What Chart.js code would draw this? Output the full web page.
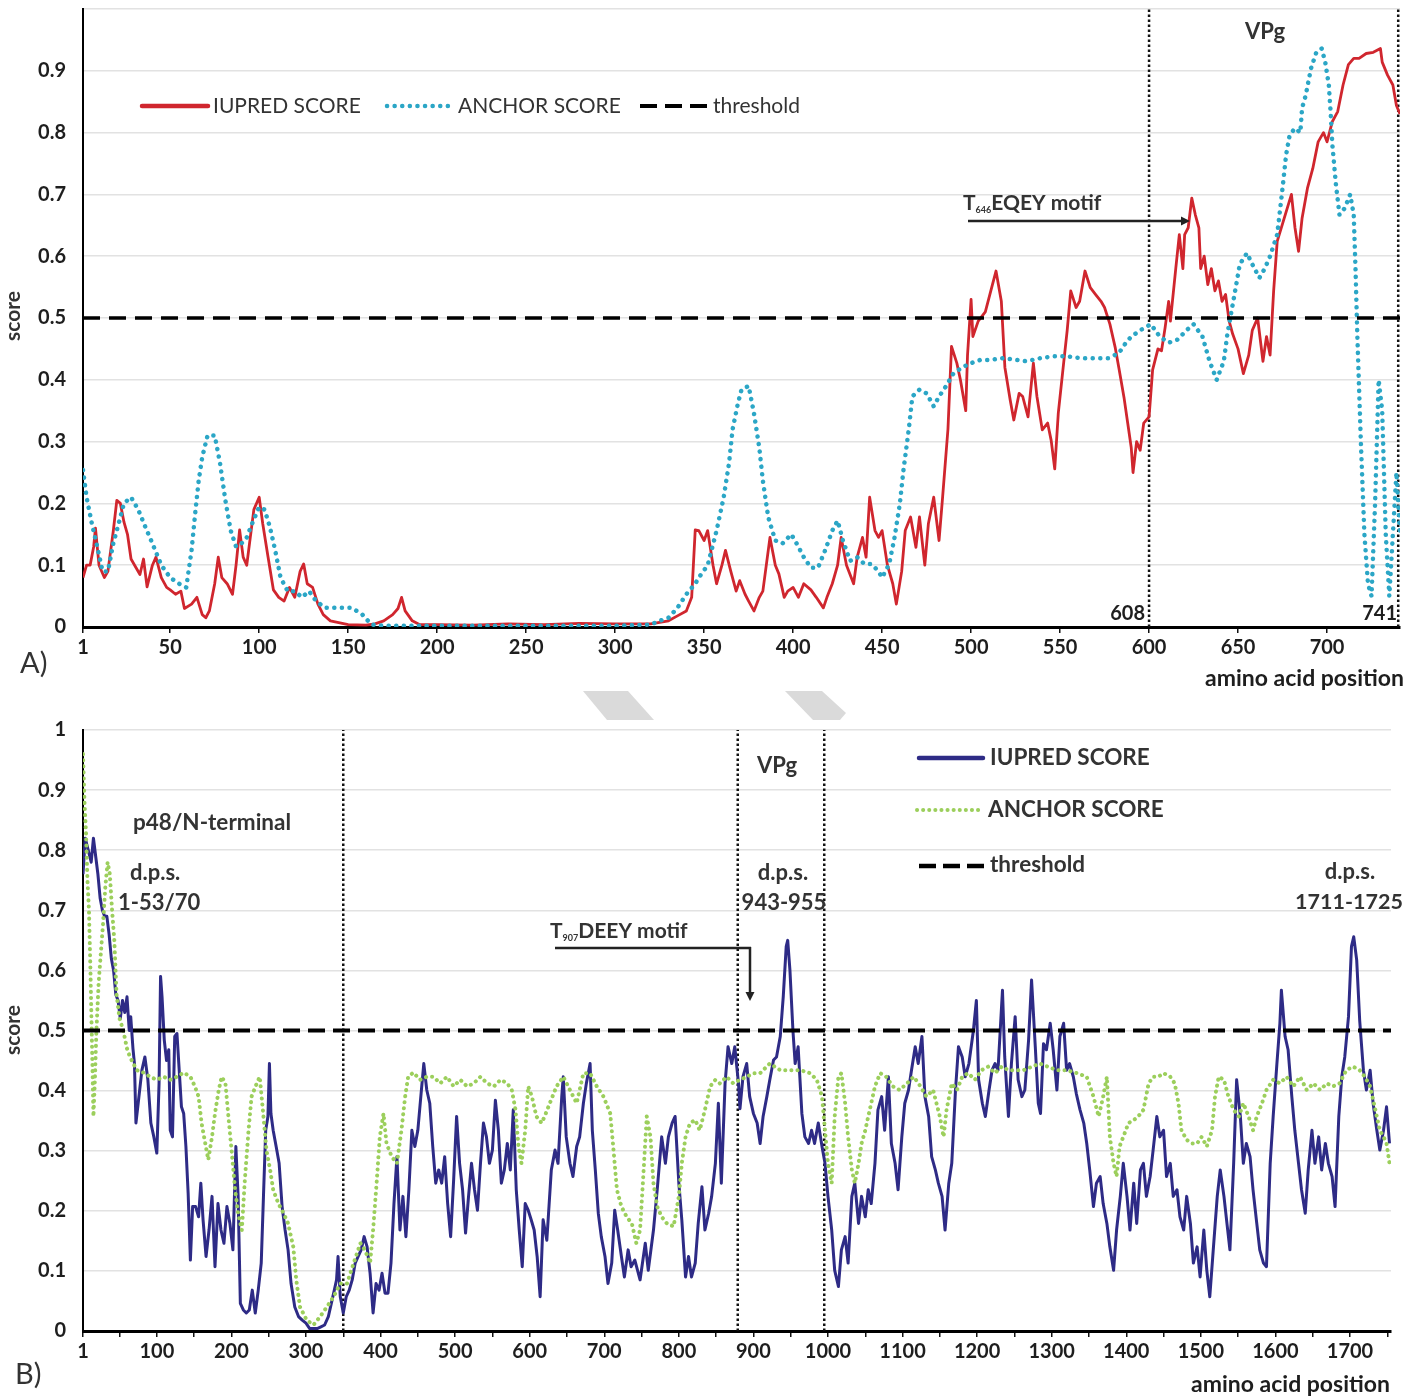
<!DOCTYPE html>
<html>
<head>
<meta charset="utf-8">
<script src="https://cdn.jsdelivr.net/npm/chart.js@4.4.1/dist/chart.umd.min.js"></script>
<style>
  body { margin: 0; background: #fff; width: 1424px; height: 1397px; position: relative; overflow: hidden; }
  #wrapA { position: absolute; left: 0; top: -20px; width: 1424px; height: 720px; }
  #wrapB { position: absolute; left: 0; top: 700px; width: 1424px; height: 697px; }
  #marks { position: absolute; left: 0; top: 0; }
</style>
</head>
<body>
<div id="wrapA"><canvas id="chartA" width="1424" height="720"></canvas></div>
<div id="wrapB"><canvas id="chartB" width="1424" height="697"></canvas></div>
<svg id="marks" width="1424" height="1397">
  <polygon points="583,691 628,691 654,720 607,720" fill="#dadada"/>
  <polygon points="785,691 822,691 846,713 840,720 813,720" fill="#dadada"/>
</svg>
<script>
// ---- panel A (741 aa) ----
const aXTicks = [1, 50, 100, 150, 200, 250, 300, 350, 400, 450, 500, 550, 600, 650, 700];
const aRegionEdges = [600, 740];

const aIupredPos = [1,3,5,7,8,10,13,15,18,20,22,24,26,28,30,33,35,37,40,42,45,48,50,53,56,58,62,65,68,70,72,75,77,79,82,85,87,89,91,93,95,97,100,102,105,108,111,114,117,120,123,125,127,130,133,136,140,150,160,165,170,175,178,180,182,186,190,200,220,240,260,280,300,320,330,335,340,343,345,347,350,352,355,357,360,362,365,368,370,373,375,378,381,383,387,390,392,395,397,400,403,406,410,413,417,419,422,425,427,430,434,436,439,441,443,446,448,450,453,456,458,461,463,466,469,471,474,476,479,482,484,487,489,492,494,497,498,500,501,504,508,512,514,517,519,522,524,527,529,532,535,537,540,543,545,547,549,552,554,556,559,561,564,567,570,573,575,578,581,583,586,588,590,591,593,595,597,600,602,605,607,609,611,612,615,617,619,620,622,624,626,628,629,631,633,635,637,639,641,643,645,647,650,653,656,658,661,664,666,668,670,672,676,680,682,684,686,689,692,695,698,700,703,706,709,712,715,718,722,726,730,731,734,737,739,741];
const aIupredVal = [0.08,0.10,0.10,0.13,0.16,0.10,0.08,0.09,0.155,0.205,0.20,0.17,0.15,0.11,0.10,0.085,0.11,0.065,0.10,0.113,0.08,0.064,0.06,0.053,0.058,0.03,0.037,0.048,0.02,0.015,0.026,0.07,0.113,0.08,0.07,0.053,0.10,0.157,0.113,0.10,0.145,0.19,0.21,0.167,0.113,0.06,0.048,0.042,0.064,0.048,0.09,0.102,0.07,0.064,0.037,0.02,0.01,0.004,0.003,0.005,0.01,0.02,0.03,0.048,0.026,0.01,0.004,0.004,0.003,0.005,0.004,0.006,0.005,0.005,0.01,0.018,0.026,0.048,0.157,0.156,0.14,0.156,0.10,0.07,0.10,0.124,0.09,0.058,0.075,0.053,0.042,0.026,0.048,0.058,0.145,0.10,0.086,0.048,0.058,0.064,0.048,0.07,0.06,0.048,0.031,0.048,0.07,0.10,0.145,0.10,0.07,0.113,0.145,0.113,0.21,0.156,0.145,0.156,0.10,0.07,0.037,0.09,0.156,0.178,0.129,0.178,0.10,0.167,0.21,0.14,0.21,0.32,0.454,0.427,0.40,0.35,0.44,0.53,0.47,0.495,0.51,0.554,0.576,0.527,0.42,0.367,0.335,0.378,0.373,0.34,0.427,0.373,0.319,0.33,0.302,0.256,0.346,0.427,0.48,0.544,0.517,0.527,0.576,0.549,0.538,0.527,0.517,0.49,0.452,0.42,0.37,0.33,0.29,0.25,0.30,0.286,0.33,0.34,0.416,0.45,0.447,0.484,0.527,0.495,0.58,0.635,0.58,0.635,0.646,0.694,0.667,0.646,0.58,0.60,0.554,0.58,0.544,0.56,0.527,0.538,0.495,0.474,0.45,0.41,0.44,0.48,0.50,0.43,0.47,0.44,0.544,0.624,0.662,0.70,0.646,0.608,0.662,0.71,0.742,0.785,0.80,0.785,0.818,0.834,0.877,0.91,0.92,0.92,0.928,0.93,0.936,0.914,0.893,0.877,0.844,0.83];

const aAnchorPos = [1,3,6,9,12,15,18,21,24,28,32,36,40,45,50,55,59,62,64,66,68,71,75,78,81,84,87,90,93,96,100,103,106,109,112,116,120,124,128,132,137,141,147,152,158,163,170,200,250,300,320,325,330,335,340,345,347,352,357,361,364,366,369,371,375,378,381,383,386,390,394,399,402,406,410,414,418,422,425,428,432,436,440,444,448,450,454,457,460,462,465,467,471,475,479,482,486,490,495,500,505,510,518,526,531,539,546,554,562,570,577,583,587,590,595,601,606,611,616,621,625,630,634,638,642,644,648,651,655,658,662,665,668,672,675,677,679,682,685,686,688,691,694,697,699,701,702,703,705,707,710,713,715,716,717,719,721,723,725,727,729,731,733,735,737,739,741];
const aAnchorVal = [0.254,0.21,0.167,0.13,0.09,0.09,0.135,0.167,0.20,0.21,0.19,0.162,0.135,0.10,0.08,0.07,0.064,0.124,0.183,0.237,0.275,0.31,0.31,0.265,0.205,0.156,0.13,0.135,0.145,0.167,0.194,0.19,0.162,0.124,0.08,0.058,0.058,0.048,0.058,0.042,0.031,0.031,0.031,0.031,0.02,0.004,0.002,0.002,0.002,0.002,0.004,0.01,0.015,0.031,0.053,0.07,0.08,0.10,0.156,0.21,0.265,0.32,0.362,0.384,0.39,0.346,0.29,0.237,0.178,0.14,0.135,0.15,0.135,0.113,0.096,0.096,0.124,0.156,0.172,0.14,0.107,0.113,0.102,0.102,0.09,0.08,0.102,0.145,0.20,0.254,0.32,0.373,0.384,0.378,0.357,0.373,0.39,0.41,0.42,0.427,0.432,0.432,0.435,0.432,0.43,0.435,0.438,0.438,0.435,0.435,0.435,0.443,0.46,0.47,0.48,0.49,0.47,0.46,0.465,0.48,0.49,0.47,0.43,0.40,0.43,0.474,0.538,0.587,0.605,0.587,0.565,0.58,0.60,0.635,0.71,0.764,0.796,0.807,0.80,0.84,0.86,0.904,0.93,0.936,0.914,0.877,0.834,0.78,0.716,0.667,0.678,0.70,0.667,0.58,0.474,0.30,0.15,0.07,0.05,0.20,0.40,0.35,0.15,0.05,0.15,0.25,0.15];

// ---- panel B (1755 aa) ----
const bXTicks = [1,50,100,150,200,250,300,350,400,450,500,550,600,650,700,750,800,850,900,950,1000,1050,1100,1150,1200,1250,1300,1350,1400,1450,1500,1550,1600,1650,1700,1750];
const bXLabels = [1,100,200,300,400,500,600,700,800,900,1000,1100,1200,1300,1400,1500,1600,1700];
const bRegionEdges = [350, 879, 995];

const bIupredPos = [1,4,8,12,15,18,21,24,27,30,33,36,39,42,45,48,51,54,57,60,63,65,68,70,72,75,80,84,88,92,96,100,103,105,107,110,113,116,118,121,124,127,130,133,136,139,142,145,148,152,156,159,162,166,170,174,178,182,186,190,194,198,202,206,209,212,216,220,224,228,232,236,240,243,246,249,251,253,256,260,264,268,272,276,280,285,290,295,300,305,310,315,320,325,330,334,338,341,343,346,350,354,358,362,366,370,374,378,382,386,390,394,398,402,406,410,414,418,422,426,430,434,438,442,446,450,454,458,462,466,470,474,478,482,486,490,494,498,502,506,510,514,518,522,526,530,534,538,542,546,550,554,558,562,566,570,574,578,582,586,590,594,598,602,606,610,614,618,623,629,634,638,643,645,649,654,658,663,667,672,676,681,684,688,692,696,701,705,710,714,718,723,727,732,736,741,748,755,759,766,771,777,782,786,791,795,800,804,809,813,817,822,826,831,835,840,844,849,853,857,862,866,871,875,880,882,886,891,895,900,905,909,913,918,922,927,931,936,940,944,946,949,953,956,960,965,969,974,978,982,987,992,996,1000,1005,1009,1014,1018,1023,1027,1032,1036,1041,1045,1050,1054,1058,1063,1067,1072,1076,1081,1085,1090,1094,1099,1103,1108,1112,1117,1121,1126,1130,1135,1139,1144,1148,1153,1157,1162,1166,1171,1175,1180,1184,1189,1195,1199,1202,1207,1211,1216,1220,1224,1228,1234,1237,1242,1246,1251,1255,1260,1264,1269,1273,1278,1282,1285,1289,1293,1298,1302,1307,1311,1316,1320,1324,1329,1333,1338,1343,1347,1351,1356,1360,1365,1369,1374,1378,1383,1387,1392,1396,1401,1405,1410,1414,1419,1423,1427,1432,1436,1441,1445,1450,1454,1459,1463,1468,1472,1477,1481,1486,1490,1495,1499,1504,1508,1512,1516,1522,1526,1531,1535,1539,1544,1548,1553,1557,1561,1566,1570,1575,1579,1584,1588,1593,1597,1602,1606,1608,1613,1617,1622,1626,1631,1635,1640,1644,1649,1653,1658,1662,1667,1671,1676,1680,1685,1689,1693,1698,1702,1705,1709,1713,1718,1722,1727,1731,1736,1740,1745,1749,1753];
const bIupredVal = [0.76,0.82,0.80,0.78,0.82,0.79,0.76,0.72,0.70,0.69,0.69,0.66,0.62,0.60,0.56,0.55,0.52,0.55,0.53,0.556,0.50,0.523,0.47,0.445,0.346,0.379,0.434,0.456,0.418,0.346,0.323,0.296,0.412,0.59,0.556,0.484,0.45,0.468,0.334,0.323,0.49,0.495,0.434,0.373,0.362,0.307,0.229,0.118,0.207,0.207,0.19,0.246,0.185,0.124,0.168,0.224,0.107,0.212,0.168,0.146,0.207,0.179,0.135,0.307,0.224,0.046,0.035,0.03,0.035,0.068,0.03,0.068,0.113,0.224,0.334,0.357,0.445,0.362,0.334,0.307,0.279,0.207,0.168,0.135,0.079,0.04,0.024,0.018,0.013,0.004,0.004,0.004,0.007,0.01,0.024,0.046,0.068,0.085,0.124,0.057,0.03,0.057,0.068,0.085,0.113,0.124,0.135,0.157,0.14,0.096,0.03,0.079,0.068,0.096,0.063,0.063,0.113,0.212,0.29,0.168,0.224,0.157,0.235,0.334,0.307,0.334,0.39,0.445,0.401,0.379,0.307,0.246,0.268,0.246,0.29,0.212,0.157,0.251,0.357,0.279,0.235,0.163,0.224,0.279,0.235,0.201,0.279,0.346,0.323,0.279,0.301,0.384,0.334,0.246,0.268,0.312,0.268,0.368,0.235,0.168,0.107,0.212,0.201,0.185,0.168,0.124,0.057,0.185,0.151,0.268,0.301,0.279,0.39,0.423,0.323,0.279,0.257,0.307,0.323,0.379,0.412,0.445,0.334,0.268,0.196,0.157,0.124,0.079,0.113,0.201,0.168,0.124,0.09,0.135,0.107,0.118,0.085,0.146,0.101,0.168,0.235,0.323,0.279,0.323,0.346,0.357,0.246,0.185,0.09,0.124,0.09,0.113,0.179,0.24,0.168,0.196,0.224,0.279,0.379,0.246,0.412,0.473,0.445,0.473,0.412,0.37,0.423,0.445,0.39,0.362,0.346,0.312,0.357,0.39,0.418,0.451,0.456,0.49,0.556,0.64,0.65,0.60,0.50,0.445,0.473,0.362,0.323,0.312,0.334,0.312,0.346,0.307,0.279,0.224,0.168,0.101,0.074,0.135,0.157,0.113,0.224,0.246,0.179,0.224,0.19,0.235,0.212,0.279,0.368,0.39,0.334,0.423,0.312,0.279,0.235,0.323,0.379,0.401,0.434,0.473,0.445,0.49,0.39,0.357,0.29,0.268,0.246,0.224,0.168,0.246,0.279,0.401,0.473,0.456,0.423,0.445,0.50,0.55,0.418,0.379,0.357,0.401,0.434,0.445,0.434,0.567,0.456,0.357,0.445,0.523,0.418,0.39,0.401,0.484,0.584,0.473,0.379,0.362,0.478,0.468,0.512,0.468,0.401,0.49,0.512,0.434,0.445,0.423,0.395,0.368,0.346,0.312,0.268,0.207,0.246,0.257,0.212,0.179,0.14,0.101,0.168,0.224,0.279,0.224,0.168,0.246,0.179,0.268,0.279,0.224,0.257,0.301,0.357,0.323,0.334,0.257,0.279,0.224,0.235,0.19,0.168,0.224,0.179,0.113,0.14,0.09,0.168,0.101,0.057,0.124,0.224,0.268,0.224,0.179,0.135,0.279,0.418,0.357,0.279,0.312,0.29,0.235,0.179,0.135,0.113,0.107,0.279,0.357,0.445,0.512,0.567,0.49,0.468,0.39,0.334,0.279,0.235,0.196,0.268,0.334,0.279,0.323,0.268,0.312,0.279,0.257,0.207,0.357,0.423,0.456,0.523,0.64,0.656,0.617,0.517,0.434,0.401,0.434,0.379,0.334,0.301,0.334,0.373,0.312];

const bAnchorPos = [1,3,5,7,9,11,13,15,17,19,22,25,28,31,34,37,40,43,46,50,55,60,64,73,82,91,100,109,118,127,136,145,151,156,160,165,169,174,178,183,187,192,196,201,205,209,214,218,223,227,234,238,243,247,252,256,263,270,276,283,287,292,301,310,319,328,337,346,355,364,373,379,386,390,395,399,404,408,415,422,428,433,437,444,453,462,471,480,489,498,507,516,525,534,543,552,561,570,576,581,585,589,594,598,603,609,616,620,627,636,645,654,663,672,681,690,699,708,712,717,723,730,737,743,748,752,757,762,766,771,777,784,793,800,804,809,815,822,828,835,842,849,855,864,873,882,891,900,909,922,936,949,963,976,985,992,996,1000,1005,1009,1014,1018,1023,1027,1032,1036,1041,1045,1050,1054,1058,1063,1070,1078,1087,1096,1106,1115,1124,1132,1141,1150,1155,1159,1166,1173,1180,1188,1197,1206,1215,1224,1233,1242,1262,1284,1307,1320,1334,1347,1356,1363,1369,1374,1378,1383,1387,1391,1396,1403,1410,1416,1423,1430,1436,1443,1450,1459,1465,1470,1474,1481,1488,1495,1501,1508,1515,1519,1524,1531,1537,1544,1551,1557,1564,1570,1575,1582,1588,1597,1606,1615,1624,1633,1642,1651,1660,1669,1677,1686,1695,1704,1713,1720,1727,1734,1740,1745,1749,1753];
const bAnchorVal = [0.96,0.88,0.83,0.75,0.70,0.60,0.48,0.357,0.42,0.50,0.58,0.63,0.68,0.74,0.78,0.76,0.70,0.65,0.56,0.52,0.50,0.47,0.456,0.434,0.43,0.423,0.418,0.423,0.418,0.423,0.43,0.423,0.407,0.39,0.346,0.312,0.285,0.323,0.362,0.401,0.423,0.412,0.357,0.29,0.235,0.196,0.168,0.251,0.334,0.39,0.412,0.423,0.357,0.301,0.268,0.235,0.212,0.196,0.179,0.14,0.085,0.04,0.018,0.01,0.024,0.04,0.057,0.079,0.079,0.113,0.146,0.135,0.113,0.168,0.251,0.323,0.362,0.312,0.29,0.279,0.334,0.39,0.423,0.43,0.418,0.423,0.423,0.412,0.423,0.407,0.418,0.407,0.412,0.423,0.412,0.407,0.418,0.412,0.401,0.368,0.307,0.279,0.334,0.407,0.39,0.357,0.346,0.357,0.379,0.407,0.423,0.401,0.379,0.429,0.429,0.407,0.39,0.362,0.307,0.235,0.207,0.19,0.179,0.146,0.168,0.251,0.357,0.323,0.246,0.207,0.19,0.179,0.174,0.224,0.279,0.323,0.346,0.351,0.334,0.368,0.407,0.418,0.412,0.423,0.412,0.418,0.423,0.429,0.429,0.445,0.434,0.434,0.434,0.429,0.418,0.39,0.334,0.279,0.246,0.357,0.423,0.429,0.379,0.323,0.268,0.246,0.279,0.312,0.334,0.357,0.379,0.407,0.429,0.423,0.407,0.401,0.412,0.423,0.407,0.39,0.401,0.357,0.323,0.368,0.412,0.401,0.423,0.429,0.418,0.434,0.44,0.429,0.44,0.434,0.434,0.445,0.434,0.434,0.429,0.423,0.39,0.357,0.39,0.423,0.323,0.279,0.257,0.307,0.323,0.346,0.351,0.357,0.368,0.412,0.423,0.423,0.429,0.423,0.412,0.379,0.334,0.318,0.312,0.312,0.323,0.307,0.334,0.39,0.423,0.418,0.39,0.368,0.357,0.379,0.357,0.334,0.357,0.379,0.401,0.418,0.412,0.423,0.407,0.423,0.401,0.412,0.401,0.412,0.407,0.412,0.434,0.44,0.434,0.423,0.407,0.368,0.334,0.323,0.312,0.279];

const threshold = 0.5;

const FONT = 'Lato, "Open Sans", sans-serif';
const INK = '#1e1e1e';

function pairs(xs, ys) {
  return xs.map((x, i) => ({ x: x, y: ys[i] }));
}

function edgeLines(edges) {
  return edges.map(e => ({
    data: [{ x: e, y: 0 }, { x: e, y: 1 }],
    borderColor: '#111', borderWidth: 2.5, borderDash: [2.5, 2.5], order: 3
  }));
}

function txt(ctx, s, x, y, size, weight, align, color) {
  ctx.font = weight + ' ' + size + 'px ' + FONT;
  ctx.textAlign = align || 'left';
  ctx.textBaseline = 'middle';
  ctx.fillStyle = color || '#333';
  ctx.fillText(s, x, y);
}

function subText(ctx, x, y, pre, sub, post, size) {
  ctx.textAlign = 'left';
  ctx.textBaseline = 'middle';
  ctx.fillStyle = '#333';
  ctx.font = 'bold ' + size + 'px ' + FONT;
  ctx.fillText(pre, x, y);
  let w = ctx.measureText(pre).width;
  ctx.font = 'bold 9px ' + FONT;
  ctx.fillText(sub, x + w, y + 7);
  w += ctx.measureText(sub).width;
  ctx.font = 'bold ' + size + 'px ' + FONT;
  ctx.fillText(post, x + w, y);
}

function seg(ctx, x1, y1, x2, y2, color, width, dash, cap) {
  ctx.save();
  ctx.strokeStyle = color;
  ctx.lineWidth = width;
  ctx.setLineDash(dash || []);
  ctx.lineCap = cap || 'butt';
  ctx.beginPath();
  ctx.moveTo(x1, y1);
  ctx.lineTo(x2, y2);
  ctx.stroke();
  ctx.restore();
}

function head(ctx, x, y, dir) {
  ctx.save();
  ctx.fillStyle = '#222';
  ctx.beginPath();
  if (dir === 'right') {
    ctx.moveTo(x, y); ctx.lineTo(x - 9, y - 4.5); ctx.lineTo(x - 9, y + 4.5);
  } else {
    ctx.moveTo(x, y); ctx.lineTo(x - 4.5, y - 9); ctx.lineTo(x + 4.5, y - 9);
  }
  ctx.closePath();
  ctx.fill();
  ctx.restore();
}

function scoreLabel(ctx, x, y) {
  ctx.save();
  ctx.translate(x, y);
  ctx.rotate(-Math.PI / 2);
  txt(ctx, 'score', 0, 0, 21, 'bold', 'center', '#333');
  ctx.restore();
}

function yTicks(showTop) {
  return {
    stepSize: 0.1, padding: 17, color: INK,
    font: { family: FONT, size: 20, weight: 'bold' },
    callback: v => {
      const r = Math.round(v * 10) / 10;
      if (r === 1 && !showTop) return '';
      return String(r);
    }
  };
}

function baseOptions(xMin, xMax, ticksList, labelled, xHeight, yWidth, pad, showTop) {
  return {
    responsive: false,
    animation: false,
    layout: { padding: pad },
    elements: { point: { radius: 0 }, line: { tension: 0, borderJoinStyle: 'round' } },
    plugins: { legend: { display: false }, tooltip: { enabled: false } },
    scales: {
      x: {
        type: 'linear', min: xMin, max: xMax,
        afterBuildTicks: axis => { axis.ticks = ticksList.map(v => ({ value: v })); },
        afterFit: s => { s.height = xHeight; },
        ticks: {
          autoSkip: false, maxRotation: 0, padding: 3, color: INK,
          font: { family: FONT, size: 20, weight: 'bold' },
          callback: v => (labelled.includes(v) ? String(v) : '')
        },
        grid: { drawOnChartArea: false, drawTicks: true, tickLength: 6, color: '#111', lineWidth: 1.5 },
        border: { color: '#000', width: 3 }
      },
      y: {
        min: 0, max: 1,
        afterFit: s => { s.width = yWidth; },
        ticks: yTicks(showTop),
        grid: { color: '#e2e2e2', lineWidth: 1.5, drawTicks: false },
        border: { color: '#000', width: 2 }
      }
    }
  };
}

// ---- chart A ----
const notesA = {
  id: 'notesA',
  afterDraw(chart) {
    const ctx = chart.ctx;
    ctx.save();
    ctx.translate(0, 20);
    // legend
    seg(ctx, 142, 106, 208, 106, '#d0262e', 4.5, [], 'round');
    txt(ctx, 'IUPRED SCORE', 213, 106, 21, 'normal');
    seg(ctx, 387, 106, 455, 106, '#2ba6c6', 4.5, [0.1, 7.5], 'round');
    txt(ctx, 'ANCHOR SCORE', 458, 106, 21, 'normal');
    seg(ctx, 640, 106, 708, 106, '#000', 4, [17, 8]);
    txt(ctx, 'threshold', 713, 106, 21, 'normal');
    // notes
    txt(ctx, 'VPg', 1265, 32, 22, 'bold', 'center');
    subText(ctx, 963, 203, 'T', '646', 'EQEY motif', 21);
    seg(ctx, 968, 221, 1182, 221, '#222', 2.5);
    head(ctx, 1190, 221, 'right');
    txt(ctx, '608', 1145, 614, 20, 'bold', 'right', INK);
    txt(ctx, '741', 1397, 614, 20, 'bold', 'right', INK);
    txt(ctx, 'A)', 20, 664, 29, 'normal', 'left', '#333');
    txt(ctx, 'amino acid position', 1404, 679, 23, 'bold', 'right', INK);
    scoreLabel(ctx, 13, 316);
    ctx.restore();
  }
};

new Chart(document.getElementById('chartA'), {
  type: 'line',
  data: {
    datasets: [
      { data: [{ x: 1, y: threshold }, { x: 741, y: threshold }], borderColor: '#000', borderWidth: 3.5, borderDash: [17, 9], order: 0 },
      { label: 'ANCHOR SCORE', data: pairs(aAnchorPos, aAnchorVal), borderColor: '#2ba6c6', borderWidth: 4.5, borderDash: [0.1, 7.5], borderCapStyle: 'round', order: 1 },
      { label: 'IUPRED SCORE', data: pairs(aIupredPos, aIupredVal), borderColor: '#d0262e', borderWidth: 2.8, order: 2 }
    ].concat(edgeLines(aRegionEdges))
  },
  options: baseOptions(1, 741, aXTicks, aXTicks, 73, 60, { left: 23, right: 24, top: 27, bottom: 0 }, false),
  plugins: [notesA]
});

// ---- chart B ----
const notesB = {
  id: 'notesB',
  afterDraw(chart) {
    const ctx = chart.ctx;
    ctx.save();
    ctx.translate(0, -700);
    // legend
    seg(ctx, 919, 758, 983, 758, '#2e2b86', 4.5, [], 'round');
    txt(ctx, 'IUPRED SCORE', 990, 758, 22.5, 'bold');
    seg(ctx, 917, 810, 983, 810, '#9ccf5c', 4, [0.1, 6], 'round');
    txt(ctx, 'ANCHOR SCORE', 988, 810, 22.5, 'bold');
    seg(ctx, 919, 866, 985, 866, '#000', 4.5, [17, 7]);
    txt(ctx, 'threshold', 990, 865, 22.5, 'bold');
    // notes
    txt(ctx, 'VPg', 777, 766, 22, 'bold', 'center');
    txt(ctx, 'p48/N-terminal', 133, 823, 22.5, 'bold');
    txt(ctx, 'd.p.s.', 130, 873, 22, 'bold');
    txt(ctx, '1-53/70', 118, 903, 22, 'bold');
    txt(ctx, 'd.p.s.', 783, 873, 22, 'bold', 'center');
    txt(ctx, '943-955', 784, 903, 22, 'bold', 'center');
    txt(ctx, 'd.p.s.', 1350, 872, 22, 'bold', 'center');
    txt(ctx, '1711-1725', 1349, 902, 21.5, 'bold', 'center');
    subText(ctx, 550, 931, 'T', '907', 'DEEY motif', 21);
    seg(ctx, 555, 948, 751, 948, '#222', 2.5);
    seg(ctx, 750, 947, 750, 993, '#222', 2.5);
    head(ctx, 750, 1001, 'down');
    txt(ctx, 'B)', 15, 1375, 29, 'normal', 'left', '#333');
    txt(ctx, 'amino acid position', 1390, 1385, 23, 'bold', 'right', INK);
    scoreLabel(ctx, 13, 1030);
    ctx.restore();
  }
};

new Chart(document.getElementById('chartB'), {
  type: 'line',
  data: {
    datasets: [
      { data: [{ x: 1, y: threshold }, { x: 1755, y: threshold }], borderColor: '#000', borderWidth: 4, borderDash: [17, 8], order: 0 },
      { label: 'ANCHOR SCORE', data: pairs(bAnchorPos, bAnchorVal), borderColor: '#9ccf5c', borderWidth: 4, borderDash: [0.1, 6], borderCapStyle: 'round', order: 1 },
      { label: 'IUPRED SCORE', data: pairs(bIupredPos, bIupredVal), borderColor: '#2e2b86', borderWidth: 3, order: 2 }
    ].concat(edgeLines(bRegionEdges))
  },
  options: baseOptions(1, 1755, bXTicks, bXLabels, 66, 60, { left: 23, right: 33, top: 30, bottom: 0 }, true),
  plugins: [notesB]
});
</script>
</body>
</html>
